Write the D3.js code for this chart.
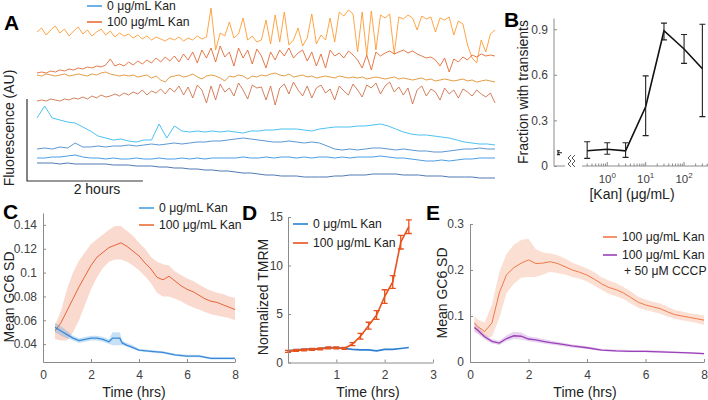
<!DOCTYPE html>
<html><head><meta charset="utf-8">
<script src="https://cdn.jsdelivr.net/npm/d3@7"></script>
<style>body{margin:0;background:#fff}</style>
</head><body>
<script>
// ---------------- DATA ----------------
// Panel A: fluorescence traces (AU), sampled evenly over the recording
const aHours = 7.9;
const aKan1 = [153,157,150,155,159,152,156,149,154,158,151,155,149,153,156,150,154,148,152,149,151,147,150,146,149,145,148,146,144,147,145,148,144,147,145,149,146,148,177,135,152,149,163,147,151,167,145,149,143,145,165,141,170,143,173,140,145,157,139,147,171,141,150,145,167,143,173,169,175,171,133,173,130,174,135,170,167,171,131,168,166,170,167,155,169,166,168,153,167,165,168,150,164,161,140,127,122,145,133,151,155];
const aKan2 = [112,113,112,114,113,115,114,116,115,117,116,118,117,119,118,120,126,119,121,119,123,120,124,121,125,122,127,123,128,124,129,123,131,125,133,122,135,127,137,123,139,128,133,119,137,127,135,121,136,129,117,133,125,135,129,137,127,132,135,124,133,119,131,117,135,129,132,127,134,130,125,117,130,115,133,129,132,134,131,133,135,132,134,131,129,127,128,125,119,127,113,126,123,128,125,130,128,131,129,130,129];
const aKan3 = [110,109,111,110,109,110,111,109,110,111,110,109,111,110,112,113,111,110,109,110,109,110,108,109,110,107,109,105,103,108,109,110,108,109,111,108,106,109,110,109,107,104,109,108,110,109,106,109,108,110,109,111,112,110,109,111,108,109,110,108,109,107,108,109,108,107,109,108,107,108,107,108,106,107,108,107,106,107,108,106,107,106,105,106,107,105,106,104,105,106,105,104,105,106,104,105,103,104,105,104,103];
const aKan4 = [84,85,84,86,85,84,86,85,87,86,88,86,89,87,90,88,89,91,89,92,90,93,91,95,90,94,92,96,91,97,93,99,90,98,87,100,95,82,99,85,101,93,97,89,102,95,86,100,97,98,85,99,80,97,101,91,103,95,89,99,87,97,100,92,96,85,99,94,90,101,95,88,100,97,102,91,99,103,93,98,90,97,81,95,99,89,96,93,85,97,91,95,87,96,93,89,95,91,88,92,82];
const aCtl1 = [67,79,67,65,63,62,58,54,49,47,45,46,44,43,45,45,61,47,59,54,53,54,53,54,53,54,53,52,54,54,55,55,56,56,56,55,54,56,57,58,58,58,59,59,60,61,59,56,53,51,50,50,49,48,47,45,43,42,41,41,40];
const aCtl2 = [36,37,36,38,37,42,38,38,39,38,39,39,40,39,40,41,40,41,42,41,42,43,43,44,44,45,46,47,46,45,44,43,43,44,43,42,43,42,39,36,35,36,35,36,37,37,36,35,36,35,34,34,33,33,34,35,36,36,37,36,36];
const aCtl3 = [27,27,28,28,29,30,28,27,27,26,27,26,26,27,26,26,27,26,26,27,26,27,26,27,27,27,27,28,27,27,28,27,28,28,27,28,27,28,28,27,28,27,28,28,28,29,28,27,27,26,25,24,24,25,24,25,26,26,27,27,27];
const aCtl4 = [22,22,22,21,22,21,21,21,21,21,20,20,20,19,19,19,18,18,17,17,16,16,15,15,14,14,13,12,12,11,10,10,9,9,9,8,8,8,8,9,9,10,10,10,11,11,11,11,10,10,10,9,9,9,8,8,8,8,7,7,7];
const legendLabels = ["0 μg/mL Kan", "100 μg/mL Kan"];

// Panel B: fraction of cells with transients vs [Kan]
const bKan  = [0.3, 1, 3, 10, 30, 100, 300];
const bFrac = [0.10, 0.11, 0.10, 0.39, 0.89, 0.77, 0.64];
const bLo   = [0.05, 0.077, 0.057, 0.20, 0.83, 0.675, 0.325];
const bHi   = [0.16, 0.153, 0.153, 0.593, 0.94, 0.865, 0.933];
const bZero = {frac: 0.087, lo: 0.075, hi: 0.10};
const bYTicks = [0, 0.3, 0.6, 0.9];

// Panel C: mean GC6 SD
const cKanTime = [0.5,0.75,1,1.25,1.5,1.75,2,2.25,2.5,2.75,3,3.25,3.5,3.75,4,4.25,4.5,4.75,5,5.25,5.5,5.75,6,6.25,6.5,6.75,7,7.25,7.5,7.75,8];
const cKanMean = [0.051,0.058,0.068,0.078,0.088,0.097,0.106,0.113,0.117,0.121,0.123,0.125,0.122,0.118,0.114,0.108,0.103,0.096,0.094,0.097,0.093,0.089,0.086,0.084,0.081,0.078,0.076,0.075,0.073,0.071,0.069];
const cKanLo   = [0.044,0.043,0.043,0.050,0.060,0.073,0.086,0.096,0.104,0.109,0.111,0.111,0.109,0.106,0.102,0.097,0.091,0.083,0.080,0.080,0.078,0.076,0.073,0.071,0.069,0.067,0.065,0.064,0.063,0.062,0.060];
const cKanHi   = [0.056,0.068,0.086,0.100,0.110,0.117,0.124,0.128,0.132,0.136,0.139,0.139,0.135,0.131,0.125,0.120,0.113,0.109,0.107,0.106,0.101,0.098,0.095,0.093,0.090,0.087,0.085,0.083,0.082,0.080,0.079];
const cCtlTime = [0.5,0.75,1,1.25,1.5,1.75,2,2.25,2.5,2.75,2.9,3.2,3.3,3.5,3.75,4,4.5,5,5.5,6,6.5,7,7.5,8];
const cCtlMean = [0.054,0.051,0.048,0.045,0.043,0.044,0.045,0.045,0.044,0.042,0.045,0.045,0.041,0.039,0.037,0.035,0.034,0.033,0.031,0.030,0.030,0.028,0.028,0.028];
const cCtlLo   = [0.050,0.047,0.045,0.043,0.041,0.042,0.043,0.043,0.042,0.040,0.039,0.039,0.039,0.038,0.036,0.034,0.033,0.032,0.030,0.029,0.029,0.027,0.027,0.027];
const cCtlHi   = [0.058,0.055,0.051,0.047,0.045,0.046,0.047,0.047,0.046,0.044,0.050,0.050,0.043,0.041,0.039,0.036,0.035,0.034,0.032,0.031,0.031,0.029,0.029,0.029];
const cYTicks = [0.04, 0.06, 0.08, 0.1, 0.12, 0.14];
const cXTicks = [0, 2, 4, 6, 8];

// Panel D: normalized TMRM
const dTime   = [0,0.167,0.333,0.5,0.667,0.833,1,1.167,1.333,1.5,1.667,1.833,2,2.167,2.333,2.5];
const dKan    = [1.15,1.25,1.3,1.35,1.4,1.5,1.5,1.45,1.9,2.7,3.8,4.9,6.8,8.3,12.4,14.0];
const dKanErr = [0.1,0.1,0.1,0.1,0.1,0.1,0.1,0.1,0.15,0.3,0.35,0.45,0.7,0.65,0.7,0.7];
const dCtl    = [1.2,1.3,1.35,1.4,1.45,1.55,1.55,1.45,1.35,1.3,1.3,1.2,1.35,1.35,1.45,1.55];
const dYTicks = [0, 5, 10, 15];
const dXTicks = [1, 2, 3];

// Panel E: mean GC6 SD with/without CCCP
const eKanTime = [0.15,0.25,0.5,0.75,1,1.25,1.5,1.75,2,2.25,2.5,2.75,3,3.25,3.5,3.75,4,4.25,4.5,4.75,5,5.25,5.5,5.75,6,6.25,6.5,6.75,7,7.25,7.5,7.75,8];
const eKanMean = [0.085,0.078,0.066,0.085,0.150,0.190,0.205,0.215,0.222,0.214,0.215,0.218,0.214,0.207,0.200,0.195,0.189,0.180,0.170,0.162,0.157,0.150,0.140,0.130,0.124,0.120,0.116,0.109,0.103,0.100,0.097,0.094,0.091];
const eKanLo   = [0.070,0.064,0.053,0.055,0.095,0.150,0.170,0.183,0.185,0.185,0.190,0.196,0.193,0.190,0.185,0.181,0.175,0.166,0.157,0.148,0.143,0.137,0.127,0.118,0.113,0.109,0.105,0.099,0.094,0.091,0.088,0.085,0.081];
const eKanHi   = [0.100,0.093,0.086,0.125,0.195,0.235,0.255,0.265,0.268,0.245,0.238,0.236,0.232,0.225,0.216,0.210,0.203,0.195,0.184,0.177,0.171,0.163,0.153,0.142,0.136,0.131,0.127,0.120,0.113,0.110,0.106,0.104,0.101];
const eCcTime = [0.15,0.25,0.5,0.75,1,1.25,1.5,1.75,2,2.25,2.5,2.75,3,3.5,4,4.5,5,5.5,6,6.5,7,7.5,8];
const eCcMean = [0.075,0.070,0.055,0.045,0.041,0.051,0.057,0.056,0.050,0.048,0.045,0.042,0.040,0.035,0.031,0.026,0.024,0.023,0.023,0.022,0.021,0.020,0.018];
const eCcLo   = [0.065,0.062,0.049,0.040,0.037,0.045,0.050,0.049,0.045,0.043,0.040,0.038,0.036,0.031,0.028,0.024,0.022,0.021,0.021,0.020,0.019,0.018,0.016];
const eCcHi   = [0.088,0.078,0.061,0.050,0.046,0.058,0.066,0.064,0.056,0.053,0.050,0.047,0.044,0.038,0.034,0.029,0.027,0.026,0.026,0.025,0.023,0.022,0.020];
const eYTicks = [0, 0.1, 0.2, 0.3];
const eXTicks = [0, 2, 4, 6, 8];
const eLegend = ["100 μg/mL Kan", "100 μg/mL Kan", "+ 50 μM CCCP"];

// ---------------- DRAWING ----------------
const FONT = "'Liberation Sans', Arial, Helvetica, sans-serif";
const AXC = "#8c8c8c", TXC = "#404040";
const LEG = 12.2;
const svg = d3.select("body").append("svg").attr("width",708).attr("height",400)
  .style("font-family",FONT);

function text(x,y,s,o={}){
  const t = svg.append("text").attr("x",x).attr("y",y).text(s)
    .attr("font-size",o.size||13).attr("fill",o.fill||"#222")
    .attr("text-anchor",o.anchor||"start");
  if(o.bold) t.attr("font-weight","bold");
  if(o.rot) t.attr("transform",`rotate(-90,${x},${y})`);
  if(o.dy) t.attr("dy",o.dy);
  return t;
}
function styleAxis(g){
  g.attr("font-family",FONT).attr("font-size",12);
  g.select(".domain").attr("stroke",AXC);
  g.selectAll(".tick line").attr("stroke",AXC);
  g.selectAll(".tick text").attr("fill",TXC);
}
function legendItem(x,y,color,label,w=15){
  svg.append("line").attr("x1",x).attr("x2",x+w).attr("y1",y).attr("y2",y)
    .attr("stroke",color).attr("stroke-width",1.6);
  text(x+w+5,y,label,{size:LEG,dy:"0.35em"});
}

// ---- Panel A ----
const xA = d3.scaleLinear().domain([0,aHours]).range([37,495]);
const yA = d3.scaleLinear().domain([0,180]).range([185,5]);
const aTraces = [aKan1,aKan2,aKan3,aKan4,aCtl1,aCtl2,aCtl3,aCtl4];
const aColors = ["#ff9526","#e0622c","#dd8a24","#cc6a42","#2cb6f0","#3f84c9","#2a8be0","#2f62aa"];
aTraces.forEach((tr,k)=>{
  const n = tr.length;
  const ln = d3.line().x((d,i)=>xA(i/(n-1)*aHours)).y(d=>yA(d));
  svg.append("path").attr("d",ln(tr)).attr("fill","none")
    .attr("stroke",aColors[k]).attr("stroke-width",0.85).attr("stroke-linejoin","round");
});
// scale bar (2 hours)
const sbX = 27;
svg.append("path").attr("fill","none").attr("stroke","#333").attr("stroke-width",1.2)
  .attr("d",`M${sbX},${yA(86)}V${yA(4)}H${sbX + xA(2)-xA(0)}`);
text(97,194,"2 hours",{size:14,anchor:"middle"});
text(14,128,"Fluorescence (AU)",{size:14,anchor:"middle",rot:true});
text(4,30,"A",{size:21,bold:true,fill:"#000"});
legendItem(87,6,"#4a9ede",legendLabels[0]);
legendItem(87,22,"#ea6e35",legendLabels[1]);

// ---- Panel B ----
const yB = d3.scaleLinear().domain([0,1]).range([166,14]);
const xB = d3.scaleLog().domain([0.22,420]).range([582,708]);
const xB0 = d3.scaleLinear().domain([-1,1]).range([552,564]);
const gBy = svg.append("g").attr("transform",`translate(554,0)`)
  .call(d3.axisLeft(yB).tickValues(bYTicks).tickFormat(d=>String(d)).tickSizeInner(-3).tickSizeOuter(0).tickPadding(6));
gBy.select(".domain").remove();
styleAxis(gBy);
svg.append("line").attr("x1",554).attr("x2",554).attr("y1",yB(0)).attr("y2",yB(0.97)).attr("stroke",AXC);
svg.append("line").attr("x1",554).attr("x2",565).attr("y1",yB(0)).attr("y2",yB(0)).attr("stroke",AXC);
svg.append("line").attr("x1",xB.range()[0]).attr("x2",xB.range()[1]).attr("y1",yB(0)).attr("y2",yB(0)).attr("stroke",AXC);
xB.ticks().forEach(t=>{
  const major = Math.abs(Math.log10(t)-Math.round(Math.log10(t)))<1e-9;
  svg.append("line").attr("x1",xB(t)).attr("x2",xB(t)).attr("y1",yB(0)).attr("y2",yB(0)-(major?4:2.5))
    .attr("stroke",AXC);
  if(major){
    const tx = svg.append("text").attr("x",xB(t)).attr("y",183).attr("text-anchor","middle")
      .attr("font-size",11.5).attr("fill",TXC);
    tx.append("tspan").text("10");
    tx.append("tspan").attr("font-size",8).attr("dy",-5).text(String(Math.round(Math.log10(t))));
  }
});
[0,4].forEach(o=>{
  svg.append("path").attr("fill","none").attr("stroke","#555").attr("stroke-width",1)
    .attr("d",`M${571+o},${155}l-3,3l3,3l-3,3l3,3`);
});
const bData = bKan.map((k,i)=>({k,f:bFrac[i],lo:bLo[i],hi:bHi[i]}));
svg.append("path").attr("d",d3.line().x(d=>xB(d.k)).y(d=>yB(d.f))(bData))
  .attr("fill","none").attr("stroke","#111").attr("stroke-width",1.6);
function errBar(x,lo,hi,cw,color,sw){
  svg.append("path").attr("fill","none").attr("stroke",color).attr("stroke-width",sw)
    .attr("d",`M${x},${lo}V${hi}M${x-cw},${lo}H${x+cw}M${x-cw},${hi}H${x+cw}`);
}
bData.forEach(d=>errBar(xB(d.k),yB(d.lo),yB(d.hi),3,"#222",1.1));
errBar(xB0(0),yB(bZero.lo),yB(bZero.hi),0,"#222",1.1);
svg.append("path").attr("stroke","#222").attr("stroke-width",1.1)
  .attr("d",`M${xB0(0)-1},${yB(bZero.hi)}H${xB0(0)+2}M${xB0(0)-1},${yB(bZero.lo)}H${xB0(0)+2}M${xB0(0)},${yB(bZero.frac)}H${xB0(0)+4}`);
text(528,92,"Fraction with transients",{size:14,anchor:"middle",rot:true});
text(632,199,"[Kan] (μg/mL)",{size:14,anchor:"middle"});
text(504,27,"B",{size:21,bold:true,fill:"#000"});

function band(x,y,T,lo,hi,color){
  const d = T.map((t,i)=>({t,lo:lo[i],hi:hi[i]}));
  svg.append("path").attr("d",d3.area().x(p=>x(p.t)).y0(p=>y(p.lo)).y1(p=>y(p.hi))(d))
    .attr("fill",color).attr("fill-opacity",0.32).attr("stroke","none");
}
function meanLine(x,y,T,m,color,sw=1){
  const d = T.map((t,i)=>({t,v:m[i]}));
  svg.append("path").attr("d",d3.line().x(p=>x(p.t)).y(p=>y(p.v))(d))
    .attr("fill","none").attr("stroke",color).attr("stroke-width",sw);
}
function axes(x,y,xt,yt,xPad,yPad){
  const gx = svg.append("g").attr("transform",`translate(0,${y.range()[0]})`)
    .call(d3.axisBottom(x).tickValues(xt).tickFormat(d=>String(d)).tickSizeInner(-3).tickSizeOuter(0).tickPadding(xPad));
  styleAxis(gx);
  const gy = svg.append("g").attr("transform",`translate(${x.range()[0]},0)`)
    .call(d3.axisLeft(y).tickValues(yt).tickFormat(d=>String(d)).tickSizeInner(-3).tickSizeOuter(0).tickPadding(yPad));
  styleAxis(gy);
}

// ---- Panel C ----
const xC = d3.scaleLinear().domain([0,8]).range([43,235]);
const yC = d3.scaleLinear().domain([0.025,0.15]).range([362,213]);
band(xC,yC,cKanTime,cKanLo,cKanHi,"#ee8a66");
band(xC,yC,cCtlTime,cCtlLo,cCtlHi,"#4fa3e6");
meanLine(xC,yC,cKanTime,cKanMean,"#e8653c");
meanLine(xC,yC,cCtlTime,cCtlMean,"#3a89d8",1.3);
axes(xC,yC,cXTicks,cYTicks,8,6);
text(14,297,"Mean GC6 SD",{size:14,anchor:"middle",rot:true});
text(134,397,"Time (hrs)",{size:14,anchor:"middle"});
text(3,219,"C",{size:21,bold:true,fill:"#000"});
legendItem(139,208,"#4a9ede",legendLabels[0]);
legendItem(139,225,"#ea6e35",legendLabels[1]);

// ---- Panel D ----
const xD = d3.scaleLinear().domain([0,3]).range([288,433]);
const yD = d3.scaleLinear().domain([0,15]).range([362.5,217]);
meanLine(xD,yD,dTime,dCtl,"#2c80d2",1.6);
meanLine(xD,yD,dTime,dKan,"#e8521c",1.6);
dTime.forEach((t,i)=>errBar(xD(t),yD(dKan[i]-dKanErr[i]),yD(dKan[i]+dKanErr[i]),3,"#e8521c",1.3));
axes(xD,yD,dXTicks,dYTicks,8,5);
text(268,297,"Normalized TMRM",{size:14,anchor:"middle",rot:true});
text(368,397,"Time (hrs)",{size:14,anchor:"middle"});
text(242,220,"D",{size:21,bold:true,fill:"#000"});
legendItem(293,224,"#2c80d2",legendLabels[0]);
legendItem(293,243,"#e8521c",legendLabels[1]);

// ---- Panel E ----
const xE = d3.scaleLinear().domain([0,8]).range([470,704]);
const yE = d3.scaleLinear().domain([0,0.3]).range([362,224]);
band(xE,yE,eKanTime,eKanLo,eKanHi,"#f29a72");
band(xE,yE,eCcTime,eCcLo,eCcHi,"#b57bd0");
meanLine(xE,yE,eKanTime,eKanMean,"#f07a48");
meanLine(xE,yE,eCcTime,eCcMean,"#9b40b8",1.3);
axes(xE,yE,eXTicks,eYTicks,8,6);
text(447,293,"Mean GC6 SD",{size:14,anchor:"middle",rot:true});
text(585,397,"Time (hrs)",{size:14,anchor:"middle"});
text(426,220,"E",{size:21,bold:true,fill:"#000"});
legendItem(603,237,"#f07a48",eLegend[0],14);
legendItem(603,255,"#9b40b8",eLegend[1],14);
text(624,271,eLegend[2],{size:LEG,dy:"0.35em"});
</script>
</body></html>
